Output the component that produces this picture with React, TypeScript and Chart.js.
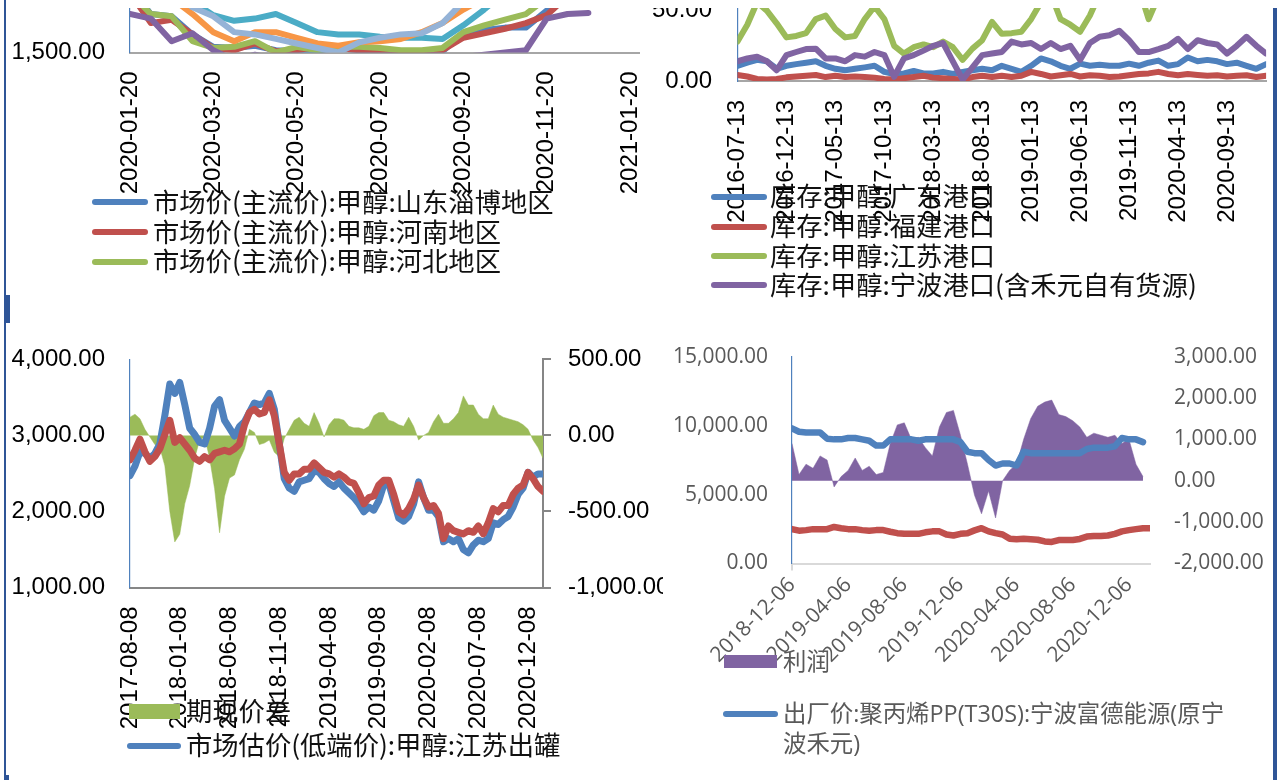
import React, { useEffect, useRef } from 'react';
import { Chart, registerables } from 'chart.js';
Chart.register(...registerables);

// ---------- colours ----------
const C_BLUE = '#4F81BD';
const C_RED = '#C0504D';
const C_GREEN = '#9BBB59';
const C_PURPLE = '#8064A2';
const C_TEAL = '#4BACC6';
const C_ORANGE = '#F79646';
const C_LBLUE = '#95B3D7';
const C_FRAME = '#2F5597';

const FONT_LAT = '"Liberation Sans", Arial, sans-serif';
const FONT_D = '"Open Sans", "Liberation Sans", sans-serif';
const FONT_CJK = '"Noto Sans CJK SC", "Noto Sans", sans-serif';

// ---------- chart A (top-left): 市场价 ----------
const catsA = '2020-01-20 2020-02-05 2020-02-20 2020-03-05 2020-03-20 2020-04-05 2020-04-20 2020-05-05 2020-05-20 2020-06-05 2020-06-20 2020-07-05 2020-07-20 2020-08-05 2020-08-20 2020-09-05 2020-09-20 2020-10-05 2020-10-20 2020-11-05 2020-11-20 2020-12-05 2020-12-20 2021-01-05 2021-01-20 2021-02-05 2021-02-20'.split(' ');
const xTicksA = ['2020-01-20', '2020-03-20', '2020-05-20', '2020-07-20', '2020-09-20', '2020-11-20', '2021-01-20'];
const yTicksA = [1500, 2000, 2500];
const shandongA = [2080, 1840, 1820, 1660, 1550, 1540, 1560, 1520, 1510, 1520, 1540, 1520, 1510, 1500, 1500, 1510, 1670, 1700, 1720, 1720, 1870, 2030, 2140];
const henanA = [2030, 1760, 1790, 1660, 1540, 1520, 1580, 1510, 1520, 1550, 1540, 1520, 1500, 1510, 1500, 1520, 1630, 1670, 1710, 1760, 1830, 2000, 2080];
const hebeiA = [2030, 1840, 1820, 1600, 1540, 1550, 1600, 1500, 1550, 1520, 1550, 1550, 1540, 1520, 1520, 1540, 1680, 1740, 1790, 1840, 1980, 2060, 2140];
const purpleA = [1840, 1800, 1600, 1670, 1520, 1430, 1480, 1440, 1400, 1390, 1390, 1400, 1400, 1410, 1420, 1470, 1460, 1480, 1500, 1520, 1800, 1840, 1850];
const tealA = [2310, 2260, 2150, 1950, 1830, 1780, 1800, 1840, 1760, 1680, 1660, 1660, 1640, 1630, 1630, 1620, 1740, 1880, 2030, 2140, 2190, 2240, 2300];
const orangeA = [2140, 2080, 1980, 1840, 1680, 1600, 1680, 1680, 1630, 1580, 1560, 1590, 1600, 1620, 1680, 1760, 1880, 1980, 2080, 2140, 2190, 2240, 2300];
const lblueA = [2260, 2150, 2040, 1900, 1820, 1680, 1660, 1620, 1580, 1540, 1500, 1590, 1630, 1660, 1670, 1760, 1950, 2080, 2190, 2240, 2300, 2350, 2400];

// ---------- chart B (top-right): 库存 ----------
const catsB = '2016-07-13 2016-08-13 2016-09-13 2016-10-13 2016-11-13 2016-12-13 2017-01-13 2017-02-13 2017-03-13 2017-04-13 2017-05-13 2017-06-13 2017-07-13 2017-08-13 2017-09-13 2017-10-13 2017-11-13 2017-12-13 2018-01-13 2018-02-13 2018-03-13 2018-04-13 2018-05-13 2018-06-13 2018-07-13 2018-08-13 2018-09-13 2018-10-13 2018-11-13 2018-12-13 2019-01-13 2019-02-13 2019-03-13 2019-04-13 2019-05-13 2019-06-13 2019-07-13 2019-08-13 2019-09-13 2019-10-13 2019-11-13 2019-12-13 2020-01-13 2020-02-13 2020-03-13 2020-04-13 2020-05-13 2020-06-13 2020-07-13 2020-08-13 2020-09-13 2020-10-13 2020-11-13 2020-12-13 2021-01-13'.split(' ');
const xTicksB = ['2016-07-13', '2016-12-13', '2017-05-13', '2017-10-13', '2018-03-13', '2018-08-13', '2019-01-13', '2019-06-13', '2019-11-13', '2020-04-13', '2020-09-13'];
const yTicksB = [0, 50, 100, 150];
const guangdongB = [10.8, 13, 15, 14, 8.7, 10.8, 12, 13, 14, 10.8, 8.7, 7.6, 8.7, 9.7, 10.8, 6.5, 5, 5.4, 7.1, 5.4, 5.4, 6.5, 5, 6.5, 7.6, 8.7, 7.6, 10.8, 8.7, 6.5, 10.8, 16, 14, 10.8, 8.7, 12.3, 10.8, 11.5, 10.8, 10.8, 12.3, 10.8, 13, 14.5, 10.8, 12, 16.7, 14, 15, 14, 12, 13, 10.8, 8.7, 12];
const fujianB = [4.3, 3.2, 1.5, 1, 1.5, 2.6, 3.2, 3.7, 4.3, 2.8, 3.7, 2.8, 3.2, 2.8, 2.4, 1.5, 1, 2, 2.8, 3.7, 2.4, 2, 1.5, 1, 2.8, 3.7, 2.8, 3.7, 2.8, 3.7, 6.5, 5, 3.2, 4.1, 5, 3.2, 4.1, 3.7, 2.8, 3.2, 4.1, 5, 5.4, 6.5, 5, 4.1, 5, 4.3, 3.7, 4.1, 3.2, 3.7, 4.1, 2.8, 3.7];
const jiangsuB = [28, 40, 56, 50, 41, 31, 32, 34, 44, 46.5, 37, 31, 32, 44, 53, 44, 25, 19.5, 24, 26, 24, 28, 24, 15, 23, 29, 42, 33.5, 34, 35, 44, 56, 62, 44, 40, 35, 46.5, 62, 75, 80, 78, 66, 44, 60, 85, 100, 110, 115, 110, 105, 100, 95, 90, 85, 80];
const ningboB = [14, 16, 17.3, 14, 7.6, 18.4, 20.6, 22.7, 23, 16, 16, 14, 18.4, 17.3, 20.6, 18.4, 3, 16, 18.4, 21.6, 25, 27, 14, 1, 9.7, 18.4, 19.5, 20.6, 28, 26, 27, 22.7, 27, 22.7, 25, 15, 27, 31.4, 32.5, 35.7, 29, 20.6, 20.6, 22.7, 25, 30, 22.7, 29, 27, 26, 19.5, 25, 31.4, 25, 19.5];

// ---------- chart C (bottom-left): 期现价差 ----------
const catsC = '2017-08-08 2017-08-23 2017-09-08 2017-09-23 2017-10-08 2017-10-23 2017-11-08 2017-11-23 2017-12-08 2017-12-23 2018-01-08 2018-01-23 2018-02-08 2018-02-23 2018-03-08 2018-03-23 2018-04-08 2018-04-23 2018-05-08 2018-05-23 2018-06-08 2018-06-23 2018-07-08 2018-07-23 2018-08-08 2018-08-23 2018-09-08 2018-09-23 2018-10-08 2018-10-23 2018-11-08 2018-11-23 2018-12-08 2018-12-23 2019-01-08 2019-01-23 2019-02-08 2019-02-23 2019-03-08 2019-03-23 2019-04-08 2019-04-23 2019-05-08 2019-05-23 2019-06-08 2019-06-23 2019-07-08 2019-07-23 2019-08-08 2019-08-23 2019-09-08 2019-09-23 2019-10-08 2019-10-23 2019-11-08 2019-11-23 2019-12-08 2019-12-23 2020-01-08 2020-01-23 2020-02-08 2020-02-23 2020-03-08 2020-03-23 2020-04-08 2020-04-23 2020-05-08 2020-05-23 2020-06-08 2020-06-23 2020-07-08 2020-07-23 2020-08-08 2020-08-23 2020-09-08 2020-09-23 2020-10-08 2020-10-23 2020-11-08 2020-11-23 2020-12-08 2020-12-23 2021-01-08 2021-01-23'.split(' ');
const xTicksC = ['2017-08-08', '2018-01-08', '2018-06-08', '2018-11-08', '2019-04-08', '2019-09-08', '2020-02-08', '2020-07-08', '2020-12-08'];
const yTicksC = [1000, 2000, 3000, 4000];
const y1TicksC = [-1000, -500, 0, 500];
const spreadC = [120, 140, 110, 40, -10, -60, -80, -200, -500, -700, -650, -450, -330, -150, -30, -10, -150, -350, -640, -400, -280, -260, -160, -90, 40, 20, -60, -50, -30, -110, -140, -20, 40, 100, 120, 80, 60, 150, 80, -10, 70, 110, 110, 100, 60, 50, 50, 40, 60, 130, 150, 150, 100, 90, 70, 60, 120, 60, -30, 0, 20, 90, 140, 80, 80, 110, 150, 260, 200, 200, 140, 110, 110, 200, 140, 120, 110, 100, 90, 70, 40, -30, -80, -150];
const jiangsuC = [2473, 2597, 2784, 2763, 2700, 2763, 2888, 3261, 3676, 3552, 3697, 3407, 3095, 3012, 2908, 2888, 3095, 3386, 3469, 3199, 3095, 2991, 3116, 3178, 3303, 3427, 3406, 3427, 3552, 3344, 2888, 2431, 2307, 2265, 2390, 2411, 2431, 2535, 2514, 2431, 2369, 2328, 2390, 2307, 2245, 2182, 2100, 1996, 2058, 2017, 2141, 2348, 2369, 2141, 1913, 1871, 1934, 2100, 2390, 2182, 2017, 2017, 1934, 1602, 1643, 1602, 1643, 1498, 1456, 1560, 1622, 1602, 1643, 1851, 1830, 1892, 1934, 2058, 2224, 2307, 2514, 2452, 2494, 2494];
const futuresC = [2680, 2805, 2950, 2784, 2660, 2722, 2825, 3012, 3199, 2908, 2970, 2888, 2805, 2701, 2660, 2722, 2680, 2763, 2784, 2805, 2784, 2825, 2888, 3137, 3303, 3344, 3282, 3303, 3469, 3261, 2888, 2514, 2410, 2494, 2494, 2556, 2556, 2639, 2577, 2514, 2494, 2452, 2494, 2452, 2390, 2369, 2245, 2100, 2182, 2203, 2348, 2411, 2411, 2224, 1996, 1954, 2037, 2162, 2348, 2182, 2058, 2079, 1975, 1643, 1809, 1747, 1726, 1705, 1747, 1726, 1809, 1705, 1851, 2037, 1996, 2079, 2079, 2224, 2307, 2348, 2514, 2431, 2328, 2265];

// ---------- chart D (bottom-right): 利润 ----------
const catsD = '2018-12-06 2018-12-21 2019-01-06 2019-01-21 2019-02-06 2019-02-21 2019-03-06 2019-03-21 2019-04-06 2019-04-21 2019-05-06 2019-05-21 2019-06-06 2019-06-21 2019-07-06 2019-07-21 2019-08-06 2019-08-21 2019-09-06 2019-09-21 2019-10-06 2019-10-21 2019-11-06 2019-11-21 2019-12-06 2019-12-21 2020-01-06 2020-01-21 2020-02-06 2020-02-21 2020-03-06 2020-03-21 2020-04-06 2020-04-21 2020-05-06 2020-05-21 2020-06-06 2020-06-21 2020-07-06 2020-07-21 2020-08-06 2020-08-21 2020-09-06 2020-09-21 2020-10-06 2020-10-21 2020-11-06 2020-11-21 2020-12-06 2020-12-21 2021-01-06 2021-01-21'.split(' ');
const xTicksD = ['2018-12-06', '2019-04-06', '2019-08-06', '2019-12-06', '2020-04-06', '2020-08-06', '2020-12-06'];
const yTicksD = [0, 5000, 10000, 15000];
const y1TicksD = [-2000, -1000, 0, 1000, 2000, 3000];
const profitD = [900, 150, 400, 300, 600, 500, -150, 100, 250, 550, 250, 350, 150, 200, 900, 1350, 1400, 1000, 1050, 800, 600, 1300, 1650, 1700, 1100, 400, -350, -800, -250, -900, 0, 250, 400, 1000, 1500, 1800, 1900, 1950, 1600, 1550, 1450, 1300, 1050, 1150, 1100, 1050, 1100, 900, 1000, 400, 100, null];
const ppD = [9800, 9550, 9500, 9500, 9500, 9050, 9000, 9000, 9100, 9100, 9000, 8900, 8550, 8550, 9000, 9000, 9000, 9000, 8900, 9000, 9000, 9000, 9000, 9000, 8800, 8100, 8000, 8000, 7500, 7100, 7250, 7250, 7100, 8100, 8000, 8000, 8000, 8000, 8000, 8000, 8000, 8000, 8300, 8400, 8400, 8400, 8500, 9100, 9000, 9000, 8800, null];
const methanolD = [2490, 2380, 2420, 2490, 2490, 2490, 2650, 2560, 2490, 2490, 2420, 2380, 2420, 2420, 2300, 2200, 2150, 2150, 2150, 2260, 2330, 2330, 2100, 2030, 2150, 2200, 2400, 2560, 2330, 2200, 2100, 1800, 1760, 1800, 1760, 1720, 1600, 1560, 1700, 1700, 1700, 1780, 1950, 2000, 1990, 2030, 2150, 2330, 2420, 2490, 2560, 2560];

// ---------- helpers ----------
type Box = { x: number; y: number; w: number; h: number };

const fmt2 = (v: any) =>
  Number(v).toLocaleString('en-US', { minimumFractionDigits: 2, maximumFractionDigits: 2 });

function lineDs(label: string, data: any[], color: string, order: number, width = 5, yAxisID = 'y') {
  return {
    type: 'line', label, data, yAxisID, order,
    borderColor: color, backgroundColor: color, borderWidth: width,
    pointRadius: 0, pointHoverRadius: 0, tension: 0, fill: false,
    borderJoinStyle: 'round', borderCapStyle: 'round', clip: 0,
  };
}
function areaDs(label: string, data: any[], color: string, order: number, yAxisID: string) {
  return {
    type: 'line', label, data, yAxisID, order,
    borderColor: color, backgroundColor: color, borderWidth: 0.5,
    pointRadius: 0, pointHoverRadius: 0, tension: 0, fill: 'origin', clip: 0,
  };
}
function catAxis(cats: string[], shown: string[], o: any) {
  return {
    type: 'category',
    offset: false,
    ticks: {
      autoSkip: false, minRotation: o.rot, maxRotation: o.rot, padding: o.pad,
      font: o.font, color: o.color,
      callback: (_v: any, i: number) => (shown.includes(cats[i]) ? cats[i] : null),
    },
    grid: o.tick
      ? {
          display: true, drawOnChartArea: false, drawTicks: true, tickLength: o.tick.len,
          lineWidth: 2, color: o.tick.color,
          tickColor: (c: any) => (shown.includes(cats[c.index]) ? o.tick.color : 'rgba(0,0,0,0)'),
        }
      : { display: false, drawTicks: false },
    border: { display: true, color: o.border.color, width: o.border.width },
    afterFit: (s: any) => { s.height = o.h; },
  };
}
function valAxis(pos: string, ticks: number[], o: any) {
  return {
    type: 'linear', position: pos,
    min: ticks[0], max: ticks[ticks.length - 1],
    ticks: { stepSize: ticks[1] - ticks[0], padding: o.pad, font: o.font, color: o.color, callback: (v: any) => fmt2(v) },
    grid: o.tick
      ? { display: true, drawOnChartArea: false, drawTicks: true, tickLength: o.tick.len, color: o.tick.color, lineWidth: 2 }
      : { display: false, drawTicks: false },
    border: o.border ? { display: true, color: o.border.color, width: o.border.width } : { display: false },
    afterFit: (s: any) => { s.width = o.w; },
  };
}
function baseOptions(padding: any, scales: any) {
  return {
    responsive: false, animation: false, devicePixelRatio: 1, events: [],
    layout: { padding },
    plugins: { legend: { display: false }, tooltip: { enabled: false } },
    scales,
  };
}

const fA = { family: FONT_LAT, size: 24 };
const fD = { family: FONT_D, size: 21 };
const WA = 6;

const makeA = () => ({
  type: 'line',
  data: {
    labels: catsA,
    datasets: [
      lineDs('市场价(主流价):甲醇:山东淄博地区', shandongA, C_BLUE, 7, WA),
      lineDs('市场价(主流价):甲醇:河南地区', henanA, C_RED, 6, WA),
      lineDs('市场价(主流价):甲醇:河北地区', hebeiA, C_GREEN, 5, WA),
      lineDs('series4', purpleA, C_PURPLE, 4, WA),
      lineDs('series5', tealA, C_TEAL, 3, WA),
      lineDs('series6', orangeA, C_ORANGE, 2, WA),
      lineDs('series7', lblueA, C_LBLUE, 1, WA),
    ],
  },
  options: baseOptions({ top: 27.5, right: 28.3, left: 0, bottom: 0 }, {
    x: catAxis(catsA, xTicksA, { rot: 90, pad: 19, font: fA, color: '#000', h: 147.5, border: { color: '#A6A6A6', width: 2 } }),
    y: valAxis('left', yTicksA, { pad: 25, font: fA, color: '#000', w: 130, border: { color: C_BLUE, width: 1.2 } }),
  }),
});

const makeB = () => ({
  type: 'line',
  data: {
    labels: catsB,
    datasets: [
      lineDs('库存:甲醇:广东港口', guangdongB, C_BLUE, 4, WA),
      lineDs('库存:甲醇:福建港口', fujianB, C_RED, 3, WA),
      lineDs('库存:甲醇:江苏港口', jiangsuB, C_GREEN, 2, WA),
      lineDs('库存:甲醇:宁波港口(含禾元自有货源)', ningboB, C_PURPLE, 1, WA),
    ],
  },
  options: baseOptions({ top: 20, right: 23.9, left: 0, bottom: 0 }, {
    x: catAxis(catsB, xTicksB, { rot: 90, pad: 19, font: fA, color: '#000', h: 149, border: { color: '#A6A6A6', width: 2 } }),
    y: valAxis('left', yTicksB, { pad: 25.5, font: fA, color: '#000', w: 97.5, border: { color: C_BLUE, width: 1.2 } }),
  }),
});

const makeC = () => ({
  type: 'line',
  data: {
    labels: catsC,
    datasets: [
      areaDs('期现价差', spreadC, C_GREEN, 3, 'y1'),
      lineDs('市场估价(低端价):甲醇:江苏出罐', jiangsuC, C_BLUE, 2, 7),
      lineDs('期货收盘价', futuresC, C_RED, 1, 7),
    ],
  },
  options: baseOptions({ top: 27, right: 0, left: 0, bottom: 0 }, {
    x: catAxis(catsC, xTicksC, { rot: 90, pad: 19, font: fA, color: '#000', h: 192.5, border: { color: '#868686', width: 2 } }),
    y: valAxis('left', yTicksC, { pad: 25, font: fA, color: '#000', w: 130, border: { color: C_BLUE, width: 1.2 } }),
    y1: valAxis('right', y1TicksC, { pad: 17, font: fA, color: '#000', w: 120, border: { color: '#868686', width: 2 }, tick: { len: 8, color: '#868686' } }),
  }),
});

const makeD = () => ({
  type: 'line',
  data: {
    labels: catsD,
    datasets: [
      areaDs('利润', profitD, C_PURPLE, 3, 'y1'),
      lineDs('出厂价:聚丙烯PP(T30S):宁波富德能源(原宁波禾元)', ppD, C_BLUE, 1, 6.5),
      lineDs('甲醇', methanolD, C_RED, 2, 6.5),
    ],
  },
  options: baseOptions({ top: 29.5, right: 0, left: 0, bottom: 0 }, {
    x: catAxis(catsD, xTicksD, { rot: 45, pad: 2, font: fD, color: '#595959', h: 216.5, border: { color: '#D9D9D9', width: 2 }, tick: { len: 7, color: '#D9D9D9' } }),
    y: valAxis('left', yTicksD, { pad: 24, font: fD, color: '#595959', w: 129, border: { color: C_BLUE, width: 1.2 } }),
    y1: valAxis('right', y1TicksD, { pad: 24, font: fD, color: '#595959', w: 123 }),
  }),
});

function ChartPanel({ clip, cv, make }: { clip: Box; cv: Box; make: () => any }) {
  const ref = useRef<HTMLCanvasElement | null>(null);
  useEffect(() => {
    if (!ref.current) return;
    const ch = new Chart(ref.current, make());
    return () => ch.destroy();
  }, []);
  return (
    <div style={{ position: 'absolute', left: clip.x, top: clip.y, width: clip.w, height: clip.h, overflow: 'hidden' }}>
      <canvas
        ref={ref}
        width={cv.w}
        height={cv.h}
        style={{ position: 'absolute', left: cv.x - clip.x, top: cv.y - clip.y, width: cv.w, height: cv.h, display: 'block' }}
      />
    </div>
  );
}

function LegLine({ x, w, y, color, h = 6 }: any) {
  return <div style={{ position: 'absolute', left: x, top: y - h / 2, width: w, height: h, background: color, borderRadius: h / 2 }} />;
}
function LegRect({ x, y, w, h, color }: any) {
  return <div style={{ position: 'absolute', left: x, top: y, width: w, height: h, background: color }} />;
}
function LegText({ x, y, text, size, color, family }: any) {
  const L = size * 1.2;
  return (
    <div
      style={{
        position: 'absolute', left: x, top: y - L / 2 - 0.056 * size, height: L, lineHeight: `${L}px`,
        fontSize: size, color, fontFamily: family, whiteSpace: 'nowrap',
      }}
    >
      {text}
    </div>
  );
}

const legendA = ['市场价(主流价):甲醇:山东淄博地区', '市场价(主流价):甲醇:河南地区', '市场价(主流价):甲醇:河北地区'];
const legendB = ['库存:甲醇:广东港口', '库存:甲醇:福建港口', '库存:甲醇:江苏港口', '库存:甲醇:宁波港口(含禾元自有货源)'];

export default function App() {
  const rowsA = [202.3, 232.3, 261.7];
  const colA = [C_BLUE, C_RED, C_GREEN];
  const rowsB = [196.7, 226.7, 256, 285];
  const colB = [C_BLUE, C_RED, C_GREEN, C_PURPLE];
  const LS = 26.3;
  const fDleg = `"Open Sans", ${FONT_CJK}`;
  return (
    <div style={{ position: 'fixed', left: 0, top: 0, width: 1277, height: 780, background: '#fff', overflow: 'hidden' }}>
      <ChartPanel clip={{ x: 0, y: 8, w: 640, h: 192 }} cv={{ x: 0, y: -100, w: 700, h: 300 }} make={makeA} />
      <ChartPanel clip={{ x: 640, y: 8, w: 633, h: 222 }} cv={{ x: 640, y: -170, w: 650, h: 400 }} make={makeB} />
      <ChartPanel clip={{ x: 0, y: 320, w: 663, h: 460 }} cv={{ x: 0, y: 320, w: 663, h: 460 }} make={makeC} />
      <ChartPanel clip={{ x: 663, y: 320, w: 610, h: 460 }} cv={{ x: 663, y: 320, w: 610, h: 460 }} make={makeD} />

      {legendA.map((t, i) => (
        <React.Fragment key={'a' + i}>
          <LegLine x={92} w={56} y={rowsA[i]} color={colA[i]} />
          <LegText x={153} y={rowsA[i]} text={t} size={LS} color="#111" family={FONT_CJK} />
        </React.Fragment>
      ))}
      {legendB.map((t, i) => (
        <React.Fragment key={'b' + i}>
          <LegLine x={711} w={56} y={rowsB[i]} color={colB[i]} />
          <LegText x={770} y={rowsB[i]} text={t} size={LS} color="#111" family={FONT_CJK} />
        </React.Fragment>
      ))}

      <LegRect x={129} y={704} w={51} h={15} color={C_GREEN} />
      <LegText x={186} y={711} text="期现价差" size={LS} color="#111" family={FONT_CJK} />
      <LegLine x={127} w={54} y={745.7} color={C_BLUE} />
      <LegText x={186} y={745.7} text="市场估价(低端价):甲醇:江苏出罐" size={LS} color="#111" family={FONT_CJK} />

      <LegRect x={724} y={655} w={53} h={13} color={C_PURPLE} />
      <LegText x={783} y={662} text="利润" size={23.4} color="#595959" family={fDleg} />
      <LegLine x={723} w={55} y={714} color={C_BLUE} />
      <LegText x={783} y={714} text="出厂价:聚丙烯PP(T30S):宁波富德能源(原宁" size={23.4} color="#595959" family={fDleg} />
      <LegText x={783} y={744} text="波禾元)" size={23.4} color="#595959" family={fDleg} />

      {/* frame decorations */}
      <div style={{ position: 'absolute', left: 4, top: 0, width: 2, height: 780, background: C_FRAME }} />
      <div style={{ position: 'absolute', left: 5, top: 295, width: 5, height: 28, background: C_FRAME }} />
      <div style={{ position: 'absolute', left: 5, top: 775, width: 4, height: 5, background: C_FRAME }} />
      <div style={{ position: 'absolute', left: 1273, top: 8, width: 4, height: 772, background: C_FRAME }} />
    </div>
  );
}
